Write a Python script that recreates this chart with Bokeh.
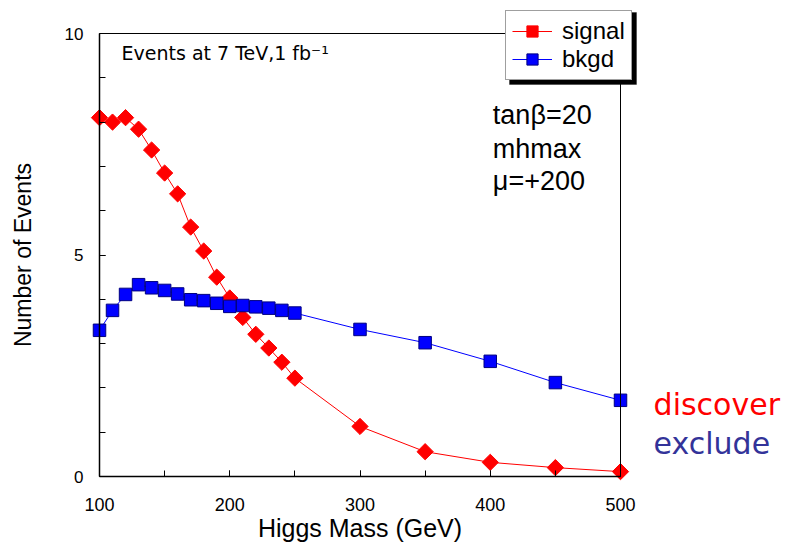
import math
from bokeh.plotting import figure
from bokeh.models import (Legend, LegendItem, Label, FixedTicker, BoxAnnotation,
                          Range1d, LinearAxis)
from bokeh.embed import file_html
from bokeh.resources import INLINE

# ---- data ----
mass = [100, 110, 120, 130, 140, 150, 160, 170, 180, 190, 200, 210, 220, 230, 240, 250,
        300, 350, 400, 450, 500]
signal = [8.10, 8.00, 8.10, 7.84, 7.37, 6.85, 6.38, 5.63, 5.09, 4.50, 4.03, 3.59, 3.21, 2.90, 2.58, 2.22,
          1.13, 0.56, 0.32, 0.20, 0.11]
bkgd = [3.30, 3.75, 4.11, 4.33, 4.26, 4.20, 4.12, 3.99, 3.97, 3.91, 3.84, 3.86, 3.83, 3.80, 3.75, 3.69,
        3.32, 3.02, 2.60, 2.12, 1.72]
x_ticks = [100, 200, 300, 400, 500]
x_minor = [100, 150, 200, 250, 300, 350, 400, 450, 500]
y_ticks = [0, 5, 10]
y_minor = [0, 1, 2, 3, 4, 5, 6, 7, 8, 9, 10]
x_lo, x_hi = 100, 500
y_lo, y_hi = 0, 10

W, H = 785, 552
# axes box in canvas pixels: left 99, right 620, top 33, bottom 476
px_x = (620 - 99) / (x_hi - x_lo)
px_y = (476 - 33) / (y_hi - y_lo)
xr = Range1d(x_lo - 99 / px_x, x_hi + (W - 620) / px_x)
yr = Range1d(y_lo - (H - 476) / px_y, y_hi + 33 / px_y)

p = figure(width=W, height=H, output_backend="svg", toolbar_location=None,
           x_range=xr, y_range=yr, min_border=0)
p.background_fill_color = "white"
p.border_fill_color = "white"
p.outline_line_color = None
p.grid.visible = False

xa = p.xaxis[0]
ya = p.yaxis[0]
xa.fixed_location = y_lo
ya.fixed_location = x_lo
xa.bounds = (x_lo, x_hi)
ya.bounds = (y_lo, y_hi)

for ax in (xa, ya):
    ax.axis_line_color = "black"
    ax.axis_line_width = 1.5
    ax.major_tick_in = 6
    ax.major_tick_out = 0
    ax.minor_tick_in = 6
    ax.minor_tick_out = 0
    ax.major_tick_line_color = "black"
    ax.minor_tick_line_color = "black"
    ax.major_label_text_font = "Liberation Sans"
    ax.major_label_text_color = "black"
    ax.axis_label_text_font = "Liberation Sans"
    ax.axis_label_text_font_style = "normal"
    ax.axis_label_text_color = "black"

xa.ticker = FixedTicker(ticks=x_ticks, minor_ticks=x_minor)
ya.ticker = FixedTicker(ticks=y_ticks, minor_ticks=y_minor)
xa.major_label_text_font_size = "18px"
ya.major_label_text_font_size = "17px"
xa.major_label_standoff = 21
ya.major_label_standoff = 16
xa.axis_label = "Higgs Mass (GeV)"
ya.axis_label = "Number of Events"
xa.axis_label_text_font_size = "25px"
ya.axis_label_text_font_size = "23px"
xa.axis_label_standoff = 0
ya.axis_label_standoff = 26

# thin frame lines on top and right
top_ax = LinearAxis(fixed_location=y_hi, bounds=(x_lo, x_hi),
                    ticker=FixedTicker(ticks=[]), axis_line_width=1,
                    major_tick_line_color=None, minor_tick_line_color=None)
right_ax = LinearAxis(fixed_location=x_hi, bounds=(y_lo, y_hi),
                      ticker=FixedTicker(ticks=[]), axis_line_width=1,
                      major_tick_line_color=None, minor_tick_line_color=None)
p.add_layout(top_ax, "above")
p.add_layout(right_ax, "right")

l1 = p.line(mass, signal, line_color="red", line_width=1)
s1 = p.scatter(mass, signal, marker="square", angle=math.pi / 4, size=11.5,
               fill_color="red", line_color="red")
l2 = p.line(mass, bkgd, line_color="blue", line_width=1)
s2 = p.scatter(mass, bkgd, marker="square", size=12.5,
               fill_color="blue", line_color="#000080", line_width=1)

# legend shadow
shadow = BoxAnnotation(left=509, right=636, top=12, bottom=84,
                       left_units="canvas", right_units="canvas",
                       top_units="canvas", bottom_units="canvas",
                       fill_color="black", fill_alpha=1, line_color="black")
p.add_layout(shadow)

legend = Legend(items=[LegendItem(label="signal", renderers=[l1, s1]),
                       LegendItem(label="bkgd", renderers=[l2, s2])],
                location=(505, H - 80), margin=0, padding=6, spacing=0,
                glyph_width=40, glyph_height=28, label_standoff=10,
                label_text_font="Liberation Sans", label_text_font_size="24px",
                label_text_color="black",
                border_line_color="#404040", border_line_width=1,
                background_fill_color="white", background_fill_alpha=1)
p.add_layout(legend)

p.add_layout(Label(x=116.9, y=9.56, text="Events at 7 TeV,1 fb\u207b\u00b9",
                   text_font="DejaVu Sans", text_font_size="19px",
                   text_baseline="alphabetic", text_color="black"))

for txt, yy in (("tan\u03b2=20", 8.15), ("mhmax", 7.40), ("\u03bc=+200", 6.67)):
    p.add_layout(Label(x=402, y=yy, text=txt, text_font="Liberation Sans",
                       text_font_size="27px", text_baseline="alphabetic",
                       text_color="black"))

p.add_layout(Label(x=525.4, y=1.62, text="discover", text_font="DejaVu Sans",
                   text_font_size="30px", text_baseline="alphabetic", text_color="#FF0000"))
p.add_layout(Label(x=525.4, y=0.74, text="exclude", text_font="DejaVu Sans",
                   text_font_size="30px", text_baseline="alphabetic", text_color="#333399"))

open("out.html", "w").write(file_html(p, INLINE))
